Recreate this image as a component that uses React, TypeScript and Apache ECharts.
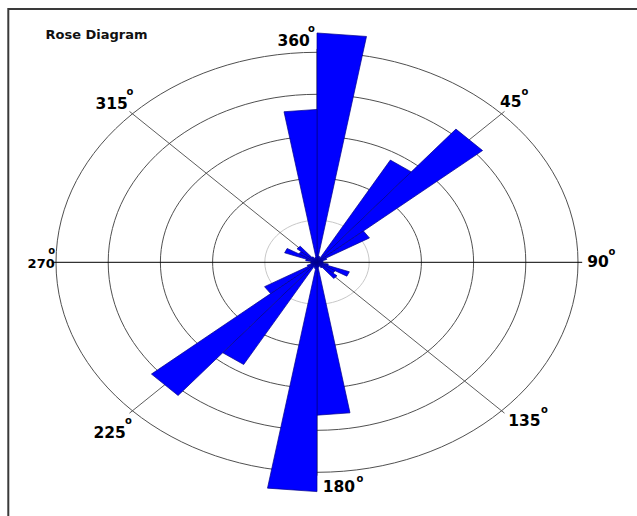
import React, { useEffect, useRef } from "react";
import * as echarts from "echarts";

// Rose diagram: 10-degree sectors, values in ring units (rings at 1..5)
const sectorStarts = [
  0, 10, 20, 30, 40, 50, 60, 70, 80, 90, 100, 110, 120, 130, 140, 150, 160, 170,
  180, 190, 200, 210, 220, 230, 240, 250, 260, 270, 280, 290, 300, 310, 320, 330, 340, 350,
];
const sectorValues = [
  5.46, 0.15, 0.12, 2.81, 4.14, 1.16, 0.2, 0.12, 0.1, 0.12, 0.22, 0.66, 0.4, 0.5, 0.15, 0.1, 0.12, 3.64,
  5.46, 0.15, 0.12, 2.81, 4.14, 1.16, 0.2, 0.12, 0.1, 0.12, 0.22, 0.66, 0.4, 0.5, 0.15, 0.1, 0.12, 3.64,
];
const sectorWidth = 10;
const ringValues = [1, 2, 3, 4, 5];
const spokeAngles = [0, 45, 90, 135, 180, 225, 270, 315];
const spokeLength = 5.08;
const tickLabels = ["360", "45", "90", "135", "180", "225", "270", "315"];

const rad = (d: number) => (d * Math.PI) / 180;

export default function App() {
  const ref = useRef<HTMLDivElement>(null);

  useEffect(() => {
    if (!ref.current) return;
    const chart = echarts.init(ref.current, null, { renderer: "svg" });

    const cx = 317;
    const cy = 262.3;
    const ux = 52.2;
    const uy = 42;
    const span = 6;

    // label layout: [numberLeftX, numberMidY, degreeX, degreeY, fontSize]
    const labelLayout: Record<string, number[]> = {
      "360": [277.5, 40.5, 311.5, 28.3, 15.5],
      "315": [95.5, 104, 130, 91, 15.5],
      "45": [500, 101.7, 525, 91.2, 15.5],
      "270": [27.6, 263, 51.6, 250, 13],
      "90": [587.3, 262.2, 612, 251.5, 15.5],
      "135": [508.3, 420.8, 544.5, 409.5, 15.5],
      "225": [93.4, 432.7, 128.5, 420.5, 15.5],
      "180": [322.7, 486.5, 360, 478.7, 15.5],
    };

    const graphics: any[] = [
      {
        type: "rect",
        shape: { x: 8.3, y: 9, width: 700, height: 600 },
        style: { fill: "none", stroke: "#3a3a3a", lineWidth: 2 },
        z: 0,
      },
      {
        type: "text",
        style: {
          text: "Rose Diagram",
          x: 45.5,
          y: 34.3,
          font: 'bold 13px "DejaVu Sans"',
          fill: "#111",
          align: "left",
          verticalAlign: "middle",
          textAlign: "left",
          textVerticalAlign: "middle",
        },
        z: 100,
      },
    ];
    tickLabels.forEach((t) => {
      const l = labelLayout[t];
      graphics.push({
        type: "text",
        style: {
          text: t,
          x: l[0],
          y: l[1],
          font: `bold ${l[4]}px "DejaVu Sans"`,
          fill: "#000",
          align: "left",
          verticalAlign: "middle",
          textAlign: "left",
          textVerticalAlign: "middle",
        },
        z: 100,
      });
      graphics.push({
        type: "text",
        style: {
          text: "o",
          x: l[2],
          y: l[3],
          font: 'bold 10px "DejaVu Sans"',
          fill: "#000",
          align: "center",
          verticalAlign: "middle",
          textAlign: "center",
          textVerticalAlign: "middle",
        },
        z: 101,
      });
    });

    const option: any = {
      animation: false,
      backgroundColor: "#ffffff",
      grid: {
        left: cx - span * ux,
        top: cy - span * uy,
        width: 2 * span * ux,
        height: 2 * span * uy,
        containLabel: false,
      },
      xAxis: { type: "value", min: -span, max: span, show: false },
      yAxis: { type: "value", min: -span, max: span, show: false },
      graphic: graphics,
      series: [
        {
          type: "custom",
          name: "rings",
          z: 1,
          silent: true,
          data: ringValues.map((r) => [r, 0]),
          renderItem: (params: any, api: any) => {
            const r = api.value(0);
            const c = api.coord([0, 0]);
            const s = api.size([r, r]);
            return {
              type: "ellipse",
              shape: { cx: c[0], cy: c[1], rx: s[0], ry: s[1] },
              style: {
                fill: "none",
                stroke: r === 1 ? "#c8c8c8" : "#505050",
                lineWidth: 1,
              },
            };
          },
        },
        {
          type: "custom",
          name: "spokes",
          z: 2,
          silent: true,
          data: spokeAngles.map((a) => [a, 0]),
          renderItem: (params: any, api: any) => {
            const a = rad(api.value(0));
            const c = api.coord([0, 0]);
            const e = api.coord([spokeLength * Math.sin(a), spokeLength * Math.cos(a)]);
            const horiz = Math.abs(Math.cos(a)) < 1e-6;
            return {
              type: "line",
              shape: { x1: c[0], y1: c[1], x2: e[0], y2: e[1] },
              style: { stroke: horiz ? "#000" : "#333", lineWidth: horiz ? 1 : 0.8 },
            };
          },
        },
        {
          type: "custom",
          name: "sectors",
          z: 3,
          data: sectorStarts.map((s, i) => [s, sectorValues[i]]),
          renderItem: (params: any, api: any) => {
            const a1 = rad(api.value(0));
            const a2 = rad(api.value(0) + sectorWidth);
            const v = api.value(1);
            const c = api.coord([0, 0]);
            const p1 = api.coord([v * Math.sin(a1), v * Math.cos(a1)]);
            const p2 = api.coord([v * Math.sin(a2), v * Math.cos(a2)]);
            return {
              type: "polygon",
              shape: { points: [c, p1, p2] },
              style: { fill: "#0000ff", stroke: "#00008b", lineWidth: 0.7 },
            };
          },
        },
      ],
    };

    chart.setOption(option);
    return () => chart.dispose();
  }, []);

  return (
    <div
      ref={ref}
      style={{ position: "fixed", left: 0, top: 0, width: 637, height: 516, background: "#fff" }}
    />
  );
}
